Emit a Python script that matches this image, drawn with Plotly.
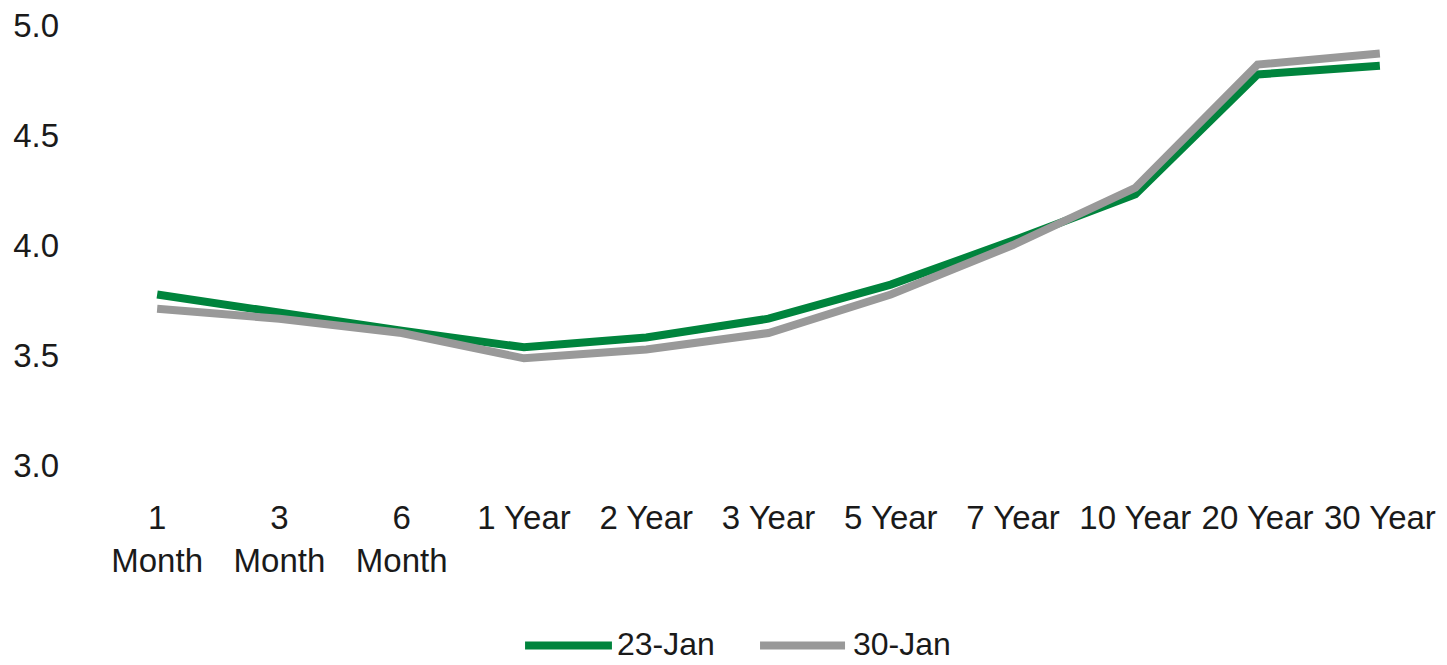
import plotly.graph_objects as go

# Treasury yield curve, two snapshot dates
tenors = ["1<br>Month", "3<br>Month", "6<br>Month", "1 Year", "2 Year", "3 Year",
          "5 Year", "7 Year", "10 Year", "20 Year", "30 Year"]
series_names = ["23-Jan", "30-Jan"]
yields_23jan = [3.775, 3.69, 3.61, 3.535, 3.58, 3.665, 3.82, 4.02, 4.23, 4.775, 4.815]
yields_30jan = [3.71, 3.665, 3.60, 3.485, 3.525, 3.60, 3.775, 4.00, 4.26, 4.82, 4.87]
y_ticks = [3.0, 3.5, 4.0, 4.5, 5.0]

GREEN = "#00843D"
GREY = "#999999"
FONT = "Liberation Sans, Arial, sans-serif"
FS = 33

fig = go.Figure()
fig.add_trace(go.Scatter(x=tenors, y=yields_23jan, mode="lines", name=series_names[0],
                         line=dict(color=GREEN, width=8), showlegend=False))
fig.add_trace(go.Scatter(x=tenors, y=yields_30jan, mode="lines", name=series_names[1],
                         line=dict(color=GREY, width=8), showlegend=False))

# Legend drawn as line swatches + labels below the axis
legend_items = [(series_names[0], GREEN, 0.319, 0.3836, 0.3866),
                (series_names[1], GREY, 0.4937, 0.5569, 0.5621)]
for name, col, x0, x1, xt in legend_items:
    fig.add_shape(type="line", xref="paper", yref="paper", x0=x0, x1=x1,
                  y0=-0.41, y1=-0.41, line=dict(color=col, width=8))
    fig.add_annotation(xref="paper", yref="paper", x=xt, y=-0.4505, text=name,
                       showarrow=False, xanchor="left", yanchor="bottom", borderpad=0,
                       font=dict(family=FONT, size=32, color="#1a1a1a"))

fig.update_layout(
    width=1447, height=665,
    margin=dict(l=96, r=6, t=25, b=200),
    paper_bgcolor="white", plot_bgcolor="white",
    font=dict(family=FONT, size=FS, color="#1a1a1a"),
    xaxis=dict(type="category", range=[-0.5, 10.5], showgrid=False, showline=False,
               zeroline=False, ticks="", ticklabelstandoff=30,
               tickfont=dict(family=FONT, size=FS, color="#1a1a1a")),
    yaxis=dict(range=[3.0, 5.0], tickvals=y_ticks, tickformat=".1f", showgrid=False,
               showline=False, zeroline=False, ticks="", ticklabelstandoff=36,
               tickfont=dict(family=FONT, size=FS, color="#1a1a1a")),
)

fig.write_html("out.html")
